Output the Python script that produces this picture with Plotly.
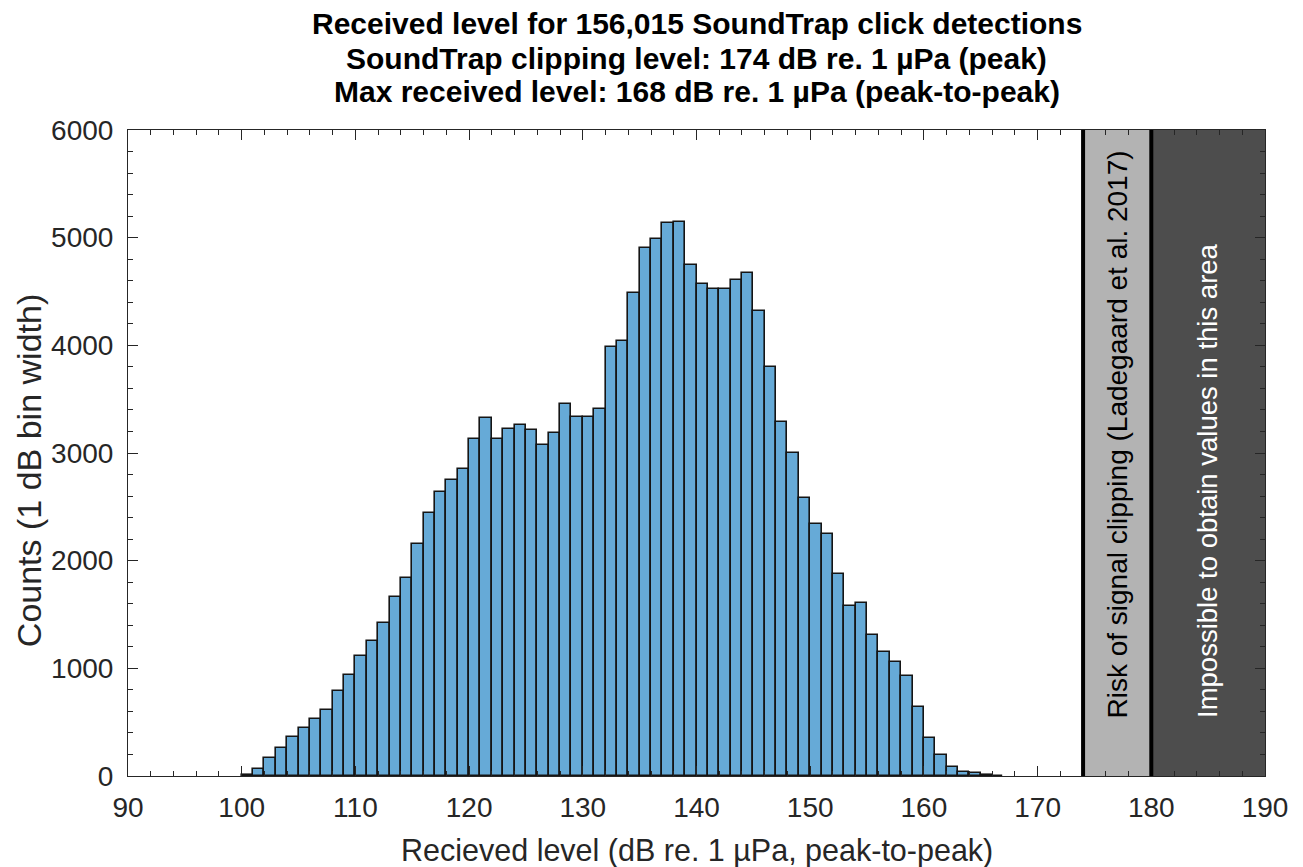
import plotly.graph_objects as go

# Histogram bins (left edges, 1 dB wide) and counts
bin_left = list(range(100, 167))
counts = [10, 62, 171, 264, 366, 443, 533, 610, 790, 935,
          1115, 1254, 1418, 1663, 1836, 2152, 2440, 2638, 2749, 2855,
          3134, 3329, 3134, 3220, 3257, 3211, 3071, 3189, 3452, 3335,
          3338, 3412, 3982, 4044, 4490, 4908, 4991, 5133, 5146, 4750,
          4570, 4520, 4520, 4607, 4669, 4316, 3799, 3290, 2997, 2579,
          2338, 2251, 1880, 1579, 1604, 1307, 1155, 1059, 929, 645,
          357, 195, 87, 37, 25, 10, 4]
bin_centers = [b + 0.5 for b in bin_left]

clip_risk = [174, 180]
impossible = [180, 190]

title_lines = [
    "Received level for 156,015 SoundTrap click detections",
    "SoundTrap clipping level: 174 dB re. 1 µPa (peak)",
    "Max received level: 168 dB re. 1 µPa (peak-to-peak)",
]
x_label = "Recieved level (dB re. 1 µPa, peak-to-peak)"
y_label = "Counts (1 dB bin width)"
risk_text = "Risk of signal clipping (Ladegaard et al. 2017)"
imp_text = "Impossible to obtain values in this area"

FONT = "Liberation Sans, Arial, sans-serif"
AX = "#262626"

fig = go.Figure()
fig.add_trace(go.Bar(
    x=bin_centers, y=counts, width=1.0,
    marker=dict(color="rgb(102,170,215)", line=dict(color="#151515", width=1.6)),
    showlegend=False,
))

shapes = [
    dict(type="rect", xref="x", yref="y", x0=clip_risk[0], x1=clip_risk[1], y0=0, y1=6000,
         fillcolor="rgb(179,179,179)", line=dict(width=0), layer="below"),
    dict(type="rect", xref="x", yref="y", x0=impossible[0], x1=impossible[1], y0=0, y1=6000,
         fillcolor="rgb(77,77,77)", line=dict(width=0), layer="below"),
    dict(type="line", xref="x", yref="y", x0=clip_risk[0], x1=clip_risk[0], y0=0, y1=6000,
         line=dict(color="black", width=4)),
    dict(type="line", xref="x", yref="y", x0=clip_risk[1], x1=clip_risk[1], y0=0, y1=6000,
         line=dict(color="black", width=4)),
]

annotations = []
title_y = [1.1655, 1.1114, 1.0590]
for t, yy in zip(title_lines, title_y):
    annotations.append(dict(text="<b>" + t + "</b>", xref="paper", yref="paper", x=0.5, y=yy,
                            xanchor="center", yanchor="middle", showarrow=False,
                            font=dict(family=FONT, size=30, color="black")))
annotations.append(dict(text=x_label, xref="paper", yref="paper", x=0.5, y=-0.115,
                        xanchor="center", yanchor="middle", showarrow=False,
                        font=dict(family=FONT, size=30.5, color=AX)))
annotations.append(dict(text=y_label, xref="paper", yref="paper", x=-0.087, y=0.472,
                        xanchor="center", yanchor="middle", showarrow=False, textangle=-90,
                        font=dict(family=FONT, size=34, color=AX)))
annotations.append(dict(text=risk_text, xref="x", yref="y", x=177, y=517,
                        xanchor="center", yanchor="bottom", showarrow=False, textangle=-90,
                        font=dict(family=FONT, size=28, color="black")))
annotations.append(dict(text=imp_text, xref="x", yref="y", x=185, y=517,
                        xanchor="center", yanchor="bottom", showarrow=False, textangle=-90,
                        font=dict(family=FONT, size=27.5, color="white")))

fig.update_layout(
    width=1303, height=867,
    margin=dict(l=128, r=38, t=130, b=91, pad=0),
    paper_bgcolor="white", plot_bgcolor="white",
    bargap=0,
    shapes=shapes, annotations=annotations,
    font=dict(family=FONT, color=AX),
)
fig.update_xaxes(
    range=[90, 190], tickmode="linear", tick0=90, dtick=10,
    ticks="inside", ticklen=10, tickwidth=1, tickcolor=AX,
    showline=True, linecolor=AX, linewidth=1, mirror="ticks",
    showgrid=False, zeroline=False,
    tickfont=dict(family=FONT, size=28, color=AX), ticklabelstandoff=6,
    minor=dict(dtick=2, ticks="inside", ticklen=5, tickcolor=AX, showgrid=False),
)
fig.update_yaxes(
    range=[0, 6000], tickmode="linear", tick0=0, dtick=1000,
    ticks="inside", ticklen=10, tickwidth=1, tickcolor=AX,
    showline=True, linecolor=AX, linewidth=1, mirror="ticks",
    showgrid=False, zeroline=False,
    tickfont=dict(family=FONT, size=28, color=AX), ticklabelstandoff=8,
    minor=dict(dtick=200, ticks="inside", ticklen=5, tickcolor=AX, showgrid=False),
)

fig.write_html("out.html")
